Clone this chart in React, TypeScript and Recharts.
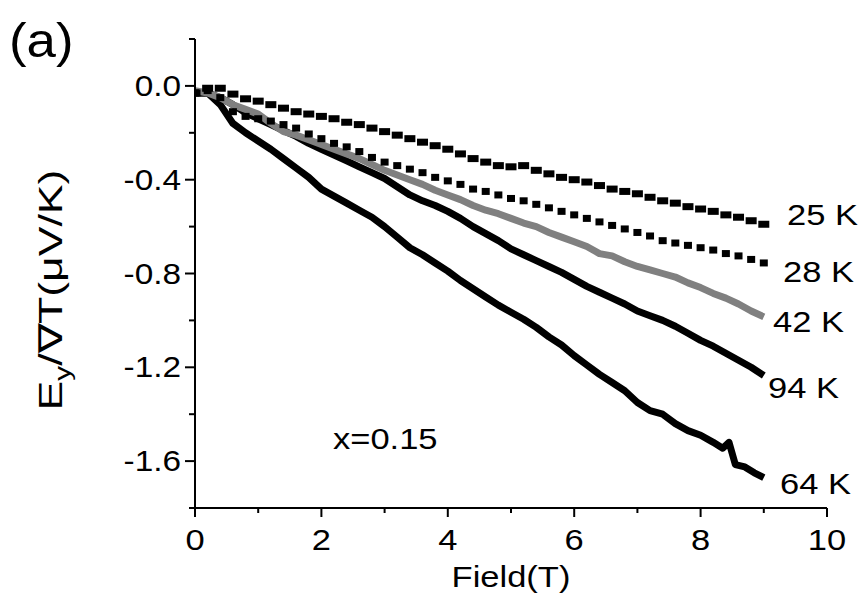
import React from "react";
import { ComposedChart, Line, Scatter, XAxis, YAxis } from "recharts";

// Field (T), sampled every 0.2 T
const FIELD = [
  0, 0.2, 0.4, 0.6, 0.8, 1.0, 1.2, 1.4, 1.6, 1.8, 2.0, 2.2, 2.4, 2.6, 2.8, 3.0,
  3.2, 3.4, 3.6, 3.8, 4.0, 4.2, 4.4, 4.6, 4.8, 5.0, 5.2, 5.4, 5.6, 5.8, 6.0, 6.2,
  6.4, 6.6, 6.8, 7.0, 7.2, 7.4, 7.6, 7.8, 8.0, 8.2, 8.4, 8.6, 8.8, 9.0,
];

// E_y / grad T (uV/K)
const K25 = [
  -0.03, -0.01, -0.01, -0.035, -0.055, -0.065, -0.08, -0.095, -0.11, -0.12, -0.13, -0.14, -0.155, -0.165, -0.18, -0.195,
  -0.21, -0.225, -0.24, -0.255, -0.27, -0.29, -0.31, -0.325, -0.34, -0.345, -0.34, -0.36, -0.375, -0.39, -0.4, -0.41,
  -0.425, -0.44, -0.45, -0.46, -0.475, -0.49, -0.5, -0.515, -0.525, -0.535, -0.55, -0.56, -0.575, -0.59,
];
const K28 = [
  -0.03, -0.02, -0.05, -0.11, -0.13, -0.14, -0.15, -0.165, -0.18, -0.205, -0.225, -0.245, -0.26, -0.28, -0.305, -0.325,
  -0.34, -0.355, -0.37, -0.39, -0.405, -0.42, -0.44, -0.45, -0.465, -0.48, -0.49, -0.505, -0.52, -0.535, -0.55, -0.565,
  -0.58, -0.595, -0.61, -0.625, -0.64, -0.66, -0.67, -0.68, -0.69, -0.7, -0.715, -0.725, -0.74, -0.755,
];
const K42 = [
  -0.02, -0.03, -0.05, -0.08, -0.1, -0.12, -0.16, -0.195, -0.21, -0.23, -0.25, -0.27, -0.29, -0.31, -0.335, -0.36,
  -0.38, -0.4, -0.42, -0.445, -0.465, -0.485, -0.51, -0.53, -0.545, -0.565, -0.585, -0.6, -0.625, -0.645, -0.665, -0.685,
  -0.715, -0.725, -0.75, -0.77, -0.785, -0.8, -0.815, -0.84, -0.86, -0.885, -0.905, -0.93, -0.96, -0.985,
];
const K94 = [
  -0.03, -0.03, -0.05, -0.08, -0.115, -0.14, -0.165, -0.19, -0.215, -0.245, -0.27, -0.295, -0.32, -0.345, -0.37, -0.395,
  -0.43, -0.465, -0.49, -0.51, -0.535, -0.565, -0.6, -0.63, -0.66, -0.695, -0.72, -0.745, -0.77, -0.795, -0.825, -0.855,
  -0.88, -0.905, -0.93, -0.96, -0.98, -1.0, -1.025, -1.055, -1.085, -1.11, -1.14, -1.17, -1.2, -1.235,
];

// 64 K has a kink near 8.5 T, so it gets its own field list
const FIELD_64 = [
  0, 0.2, 0.4, 0.6, 0.8, 1.0, 1.2, 1.4, 1.6, 1.8, 2.0, 2.2, 2.4, 2.6, 2.8, 3.0,
  3.2, 3.4, 3.6, 3.8, 4.0, 4.2, 4.4, 4.6, 4.8, 5.0, 5.2, 5.4, 5.6, 5.8, 6.0, 6.2,
  6.4, 6.6, 6.8, 7.0, 7.2, 7.4, 7.6, 7.8, 8.0, 8.2, 8.35, 8.45, 8.55, 8.7, 8.85, 9.0,
];
const K64 = [
  -0.03, -0.03, -0.08, -0.16, -0.2, -0.235, -0.27, -0.31, -0.35, -0.39, -0.44, -0.47, -0.5, -0.53, -0.56, -0.6,
  -0.645, -0.69, -0.72, -0.755, -0.79, -0.83, -0.865, -0.9, -0.935, -0.965, -0.995, -1.03, -1.07, -1.105, -1.15, -1.19,
  -1.23, -1.265, -1.3, -1.35, -1.385, -1.4, -1.44, -1.47, -1.49, -1.52, -1.545, -1.52, -1.615, -1.625, -1.65, -1.67,
];

const SERIES_NAMES = ["25 K", "28 K", "42 K", "94 K", "64 K"];

const X_TICKS = [0, 1, 2, 3, 4, 5, 6, 7, 8, 9, 10];
const X_LABELED = [0, 2, 4, 6, 8, 10];
const Y_TICKS = [-1.8, -1.6, -1.4, -1.2, -1.0, -0.8, -0.6, -0.4, -0.2, 0, 0.2];
const Y_LABELED = [-1.6, -1.2, -0.8, -0.4, 0];

const FONT = "'Liberation Sans', Arial, sans-serif";
const STRETCH = 1.15;

const toPoints = (xs: number[], ys: number[]) => xs.map((x, i) => ({ x, y: ys[i] }));

const d25 = toPoints(FIELD, K25);
const d28 = toPoints(FIELD, K28);
const d42 = toPoints(FIELD, K42);
const d94 = toPoints(FIELD, K94);
const d64 = toPoints(FIELD_64, K64);

function XTick({ x, y, payload }: any) {
  const v = payload.value;
  const major = X_LABELED.includes(v);
  return (
    <g>
      <line x1={x} x2={x} y1={y} y2={y + (major ? 9 : 5)} stroke="#000" strokeWidth={2} />
      {major && (
        <text
          transform={`translate(${x},${y + 42}) scale(${STRETCH},1)`}
          textAnchor="middle"
          fontFamily={FONT}
          fontSize={30}
          fill="#000"
        >
          {v}
        </text>
      )}
    </g>
  );
}

function YTick({ x, y, payload }: any) {
  const v = payload.value;
  const major = Y_LABELED.some((m) => Math.abs(m - v) < 1e-6);
  return (
    <g>
      <line x1={x} x2={x - (major ? 10 : 6)} y1={y} y2={y} stroke="#000" strokeWidth={2} />
      {major && (
        <text
          transform={`translate(${x - 14},${y + 10}) scale(${STRETCH},1)`}
          textAnchor="end"
          fontFamily={FONT}
          fontSize={29}
          fill="#000"
        >
          {v.toFixed(1)}
        </text>
      )}
    </g>
  );
}

const square = (w: number, h: number) => (props: any) => (
  <rect x={props.cx - w / 2} y={props.cy - h / 2} width={w} height={h} fill="#000" />
);

function Label({ x, y, children, anchor = "start", size = 30 }: any) {
  return (
    <text
      transform={`translate(${x},${y}) scale(${STRETCH},1)`}
      textAnchor={anchor}
      fontFamily={FONT}
      fontSize={size}
      fill="#000"
    >
      {children}
    </text>
  );
}

export default function App() {
  return (
    <div style={{ position: "absolute", left: 0, top: 0, background: "#fff" }}>
      <ComposedChart width={865} height={599} margin={{ top: 39, right: 38, bottom: 41, left: 135 }}>
        <XAxis
          type="number"
          dataKey="x"
          domain={[0, 10]}
          allowDataOverflow
          ticks={X_TICKS}
          interval={0}
          height={50}
          tickSize={0}
          tickMargin={0}
          tickLine={false}
          axisLine={{ stroke: "#000", strokeWidth: 2 }}
          tick={<XTick />}
        />
        <YAxis
          type="number"
          dataKey="y"
          domain={[-1.8, 0.2]}
          allowDataOverflow
          ticks={Y_TICKS}
          interval={0}
          width={60}
          tickSize={0}
          tickMargin={0}
          tickLine={false}
          axisLine={{ stroke: "#000", strokeWidth: 2 }}
          tick={<YTick />}
        />
        <Line data={d64} dataKey="y" name={SERIES_NAMES[4]} type="linear" stroke="#000" strokeWidth={7}
          strokeLinejoin="round" dot={false} isAnimationActive={false} />
        <Line data={d94} dataKey="y" name={SERIES_NAMES[3]} type="linear" stroke="#000" strokeWidth={7}
          strokeLinejoin="round" dot={false} isAnimationActive={false} />
        <Line data={d42} dataKey="y" name={SERIES_NAMES[2]} type="linear" stroke="#808080" strokeWidth={7}
          strokeLinejoin="round" dot={false} isAnimationActive={false} />
        <Scatter data={d28} dataKey="y" name={SERIES_NAMES[1]} shape={square(8, 7)} isAnimationActive={false} />
        <Scatter data={d25} dataKey="y" name={SERIES_NAMES[0]} shape={square(11, 7)} isAnimationActive={false} />

        <Label x={787} y={225}>{SERIES_NAMES[0]}</Label>
        <Label x={783} y={282}>{SERIES_NAMES[1]}</Label>
        <Label x={773} y={332}>{SERIES_NAMES[2]}</Label>
        <Label x={768} y={398}>{SERIES_NAMES[3]}</Label>
        <Label x={780} y={494}>{SERIES_NAMES[4]}</Label>
        <Label x={333} y={449}>x=0.15</Label>
        <Label x={511} y={587} anchor="middle">Field(T)</Label>
        <text transform="translate(9,57) scale(1.1,1)" fontFamily={FONT} fontSize={48} fill="#000">(a)</text>
        <text
          transform="translate(62,290) rotate(-90) scale(1.35,1)"
          textAnchor="middle"
          fontFamily={FONT}
          fontSize={33}
          fill="#000"
        >
          E<tspan dy={8} fontSize={22}>y</tspan>
          <tspan dy={-8}>/∇T(μV/K)</tspan>
        </text>
      </ComposedChart>
    </div>
  );
}
